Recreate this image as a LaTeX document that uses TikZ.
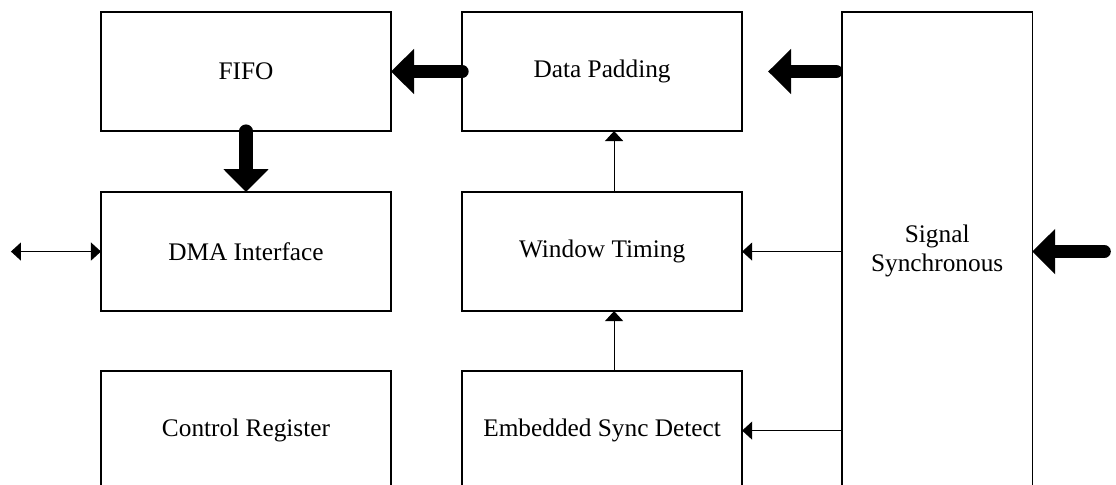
\documentclass[tikz,border=0pt]{standalone}
\usepackage{fontspec}
\setmainfont{Liberation Serif}
\usetikzlibrary{arrows.meta, positioning}
\tikzset{
  every picture/.style={font=\fontsize{18}{21}\selectfont},
  box/.style={draw, line width=1pt, align=center, inner sep=0pt, outer sep=0pt, minimum width=7.25cm, minimum height=2.975cm},
  fat/.style={-{Triangle[length=0.575cm, width=1.1cm]}, line width=0.33cm, line cap=round},
  thin/.style={-{Triangle[length=0.25cm, width=0.45cm]}, line width=0.8pt},
}
\begin{document}
\begin{tikzpicture}[x=0.025cm, y=-0.025cm]
  \useasboundingbox (0,0) rectangle (1116,485);
  % left column
  \node[box] (fifo) at (246,71.5) {FIFO};
  \node[box, below=1.525cm of fifo] (dma) {DMA Interface};
  \node[box, below=1.5cm of dma] (ctrl) {Control Register};
  % middle column
  \node[box, minimum width=7cm, right=1.775cm of fifo] (pad) {Data Padding};
  \node[box, minimum width=7cm, below=1.525cm of pad] (win) {Window Timing};
  \node[box, minimum width=7cm, below=1.5cm of win] (emb) {Embedded Sync Detect};
  % right column
  \node[box, minimum width=4.75cm, minimum height=11.95cm, right=2.5cm of pad.north east, anchor=north west] (sync) {Signal\\Synchronous};
  \coordinate[right=1.8cm of sync.east |- win.east] (syncin);
  \coordinate[left=2.25cm of dma.west] (host);
  % thick data path
  \draw[fat] (pad.west) -- (fifo.east);
  \draw[fat, shorten >=0.65cm, shorten <=0.15cm] (sync.west |- pad.east) -- (pad.east);
  \draw[fat] (fifo.south) -- (dma.north);
  \draw[fat] (syncin) -- (syncin -| sync.east);
  % thin control lines
  \draw[thin, {Triangle[length=0.25cm, width=0.45cm]}-{Triangle[length=0.25cm, width=0.45cm]}] (host) -- (dma.west);
  \draw[thin] ([xshift=0.3cm]win.north) -- ([xshift=0.3cm]pad.south);
  \draw[thin] ([xshift=0.3cm]emb.north) -- ([xshift=0.3cm]win.south);
  \draw[thin] (sync.west |- win.east) -- (win.east);
  \draw[thin] (sync.west |- emb.east) -- (emb.east);
\end{tikzpicture}
\end{document}
